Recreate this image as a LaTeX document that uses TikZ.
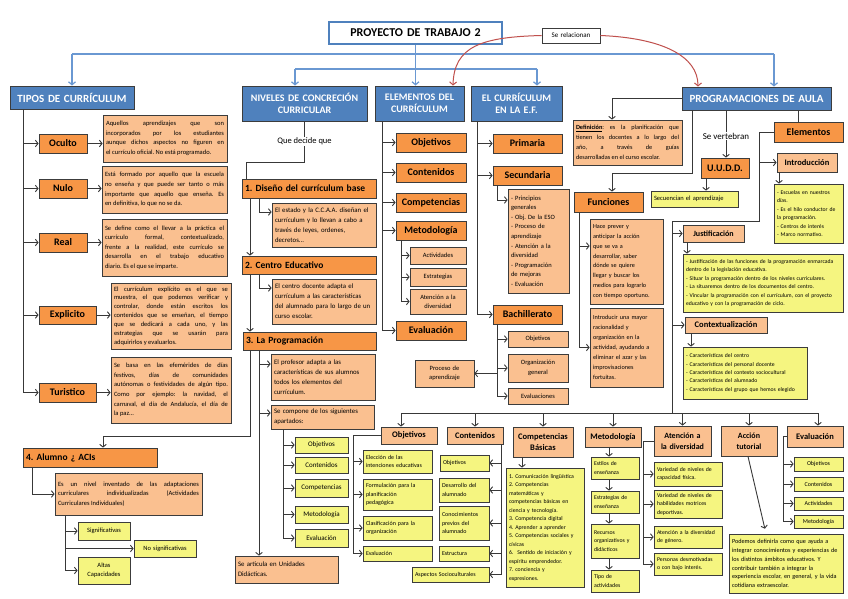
\documentclass[tikz,border=0pt]{standalone}
\usepackage{fontspec}
\setmainfont{Carlito}
\usetikzlibrary{arrows.meta}
\definecolor{hblue}{HTML}{4F81BD}
\definecolor{orng}{HTML}{F79646}
\definecolor{lorng}{HTML}{FAC090}
\definecolor{yel}{HTML}{F5F580}
\definecolor{bd}{HTML}{3C3C3C}
\definecolor{lc}{HTML}{383838}
\definecolor{bline}{HTML}{6A98D2}
\definecolor{rline}{HTML}{C0504D}
\newcommand\bx[8][]{%
 \pgfmathsetmacro\bw{#6-#4}%
 \pgfmathsetmacro\bh{#7-#5}%
 \pgfmathsetmacro\bcx{(#4+#6)/2}%
 \pgfmathsetmacro\bcy{(#5+#7)/2}%
 \pgfmathsetmacro\btw{#6-#4-6}%
 \node[#2, minimum width=\bw pt, minimum height=\bh pt, text width=\btw pt, #1] (#3) at (\bcx,\bcy) {#8};}
\newcommand\fs[2]{\fontsize{#1}{#2}\selectfont}
\tikzset{
 base/.style={align=center, inner xsep=3pt, inner ysep=0.5pt},
 hdr/.style={base, draw=bd, line width=0.9pt, fill=hblue, text=white, font=\fs{10}{12.5}\bfseries},
 ob/.style={base, draw=bd, line width=0.9pt, fill=orng, font=\fs{10}{12}\bfseries},
 lob/.style={ob, fill=lorng},
 lo/.style={base, draw=bd, line width=0.8pt, fill=lorng, align=left, font=\fs{6.5}{9.6}},
 lj/.style={lo, align=justify},
 ye/.style={base, draw=bd, line width=0.8pt, fill=yel, align=left, font=\fs{6}{8.5}},
 ln/.style={draw=lc, line width=0.9pt},
 ar/.style={ln, -{Straight Barb[length=2.6pt,width=6.5pt]}},
 bl/.style={draw=bline, line width=1.2pt},
 bla/.style={bl, -{Straight Barb[length=3pt,width=7pt]}},
 ra/.style={draw=rline, line width=1pt, -{Straight Barb[length=3pt,width=7pt]}},
}
\begin{document}
\frenchspacing
\begin{tikzpicture}[x=1pt,y=-1pt]
\useasboundingbox (0,0) rectangle (848,599);
\fill[white] (0,0) rectangle (848,599);

% ---------- top ----------
\bx[draw=hblue, line width=1.6pt, fill=white, font=\fs{12}{14}\bfseries]{base}{title}{329}{22}{502}{44}{PROYECTO DE TRABAJO 2}
\bx[draw=bd, line width=0.7pt, fill=white, font=\fs{7}{8}]{base}{serel}{542}{28}{600}{43}{Se relacionan}

\bx[font=\fs{11}{13}\bfseries]{hdr}{tipos}{10}{86}{134}{109}{TIPOS DE CURRÍCULUM}
\bx{hdr}{niveles}{242}{86}{367}{121}{NIVELES DE CONCRECIÓN\\CURRICULAR}
\bx{hdr}{elem}{375}{86}{464}{121}{ELEMENTOS DEL\\CURRÍCULUM}
\bx{hdr}{ef}{471}{86}{562}{121}{EL CURRÍCULUM\\EN LA E.F.}
\bx[font=\fs{11}{13}\bfseries]{hdr}{prog}{682}{87}{831}{110}{PROGRAMACIONES DE AULA}

\coordinate (bL) at (72,54);
\coordinate (bR) at (774,54);
\coordinate (nA) at (295,69);
\coordinate (eA) at (537,69);
\draw[bl] (bL) -- (bR);
\draw[bl] (nA) -- (eA);
\draw[bla] (title.south) -- (title.south |- elem.north);
\draw[bla] (bL) -- (tipos.north);
\draw[bla] (bR) -- (bR |- prog.north);
\draw[bla] (nA) -- (nA |- niveles.north);
\draw[bla] (eA) -- (eA |- ef.north);
\draw[ra] (serel.west) .. controls (482,37) and (454,46) .. (elem.north -| 453,0);
\draw[ra] (serel.east) .. controls (662,38) and (698,56) .. (prog.north -| 698,0);

% ---------- TIPOS ----------
\bx{ob}{oculto}{39}{134}{87}{153}{Oculto}
\bx{ob}{nulo}{39}{179}{87}{198}{Nulo}
\bx{ob}{real}{39}{233}{87}{252}{Real}
\bx{ob}{explicito}{39}{306}{96}{324}{Explicito}
\bx{ob}{turistico}{39}{383}{96}{402}{Turistico}
\bx{lj}{docu}{103}{115}{227}{162}{Aquellos aprendizajes que son\linebreak incorporados por los estudiantes\linebreak aunque dichos aspectos no figuren en\linebreak el currículo oficial. No está programado.}
\bx{lj}{dnul}{102}{166}{227}{213}{Está formado por aquello que la escuela\linebreak no enseña y que puede ser tanto o más\linebreak importante que aquello que enseña. Es\linebreak en definitiva, lo que no se da.}
\bx{lj}{dreal}{102}{219}{227}{276}{Se define como el llevar a la práctica el\linebreak currículo formal, contextualizado,\linebreak frente a la realidad, este currículo se\linebreak desarrolla en el trabajo educativo\linebreak diario. Es el que se imparte.}
\bx[font=\fs{6.5}{8.9}]{lj}{dexp}{111}{283}{231}{349}{El currículum explícito es el que se\linebreak muestra, el que podemos verificar y\linebreak controlar, donde están escritos los\linebreak contenidos que se enseñan, el tiempo\linebreak que se dedicará a cada uno, y las\linebreak estrategias que se usarán para\linebreak adquirirlos y evaluarlos.}
\bx{lj}{dtur}{111}{357}{231}{423}{Se basa en las efemérides de días\linebreak festivos, días de comunidades\linebreak autónomas o festividades de algún tipo.\linebreak Como por ejemplo: la navidad, el\linebreak carnaval, el día de Andalucía, el día de\linebreak la paz...}

\coordinate (tv) at (23,0);
\draw[ln] (tipos.south -| tv) -- (tv |- turistico.west);
\foreach \n in {oculto,nulo,real,explicito,turistico} \draw[ar] (tv |- \n.west) -- (\n.west);
\draw[ar] (oculto.east) -- (docu.west |- oculto.east);
\draw[ar] (nulo.east) -- (dnul.west |- nulo.east);
\draw[ar] (real.east) -- (dreal.west |- real.east);
\draw[ar] (explicito.east) -- (dexp.west |- explicito.east);
\draw[ar] (turistico.east) -- (dtur.west |- turistico.east);

% ---------- NIVELES ----------
\node[font=\fs{8.5}{10}, inner sep=1pt] (qdq) at (304.5,141.5) {Que decide que};
\tikzset{nl/.style={ob, align=left, font=\fs{9.5}{11}\bfseries}}
\bx{nl}{n1}{242}{179}{376}{198}{1. Diseño del currículum base}
\bx[font=\fs{6.8}{10}]{lo}{d1}{272}{203}{376}{247}{El estado y la C.C.A.A. diseñan el\\currículum y lo llevan a cabo a\\través de leyes, ordenes,\\decretos...}
\bx{nl}{n2}{242}{256}{376}{274}{2. Centro Educativo}
\bx[font=\fs{6.8}{10}]{lo}{d2}{272}{279}{376}{324}{El centro docente adapta el\\currículum a las características\\del alumnado para lo largo de un\\curso escolar.}
\bx{nl}{n3}{243}{332}{376}{350}{3. La Programación}
\bx[font=\fs{6.8}{10}]{lo}{d3}{271}{354}{375}{400}{El profesor adapta a las\\características de sus alumnos\\todos los elementos del\\currículum.}
\bx[font=\fs{6.8}{10}]{lo}{d4}{271}{405}{374}{429}{Se compone de los siguientes\\apartados:}
\bx[font=\fs{6.8}{10}]{lo}{artic}{235}{556}{338}{583}{Se articula en Unidades\\Didácticas.}
\bx[align=center, font=\fs{7}{8}]{ye}{so1}{295}{437}{348}{453}{Objetivos}
\bx[align=center, font=\fs{7}{8}]{ye}{so2}{295}{457}{348}{473}{Contenidos}
\bx[align=center, font=\fs{7}{8}]{ye}{so3}{295}{479}{348}{497}{Competencias}
\bx[align=center, font=\fs{7}{8}]{ye}{so4}{295}{506}{348}{523}{Metodología}
\bx[align=center, font=\fs{7}{8}]{ye}{so5}{295}{529}{348}{547}{Evaluación}

\draw[ln] (niveles.south) -- (qdq.north);
\coordinate (nv) at (246,162);
\draw[ln] (qdq.south) |- (nv) -- (nv |- n1.north);
\coordinate (nx) at (250,0);
\coordinate (ny) at (259,0);
\coordinate (nz) at (283,0);
\draw[ar] (nx |- n1.south) -- (nx |- n2.north);
\draw[ar] (nx |- n2.south) -- (nx |- n3.north);
\draw[ar] (ny |- n1.south) |- (d1.west |- 0,212);
\draw[ar] (ny |- n2.south) |- (d2.west |- 0,288);
\draw[ar] (ny |- n3.south) -- (ny |- artic.north);
\draw[ar] (ny |- 0,364) -- (d3.west |- 0,364);
\draw[ar] (ny |- 0,413) -- (d4.west |- 0,413);
\draw[ln] (nz |- d4.south) -- (nz |- so5.west);
\foreach \n in {so1,so2,so3,so4,so5} \draw[ar] (nz |- \n.west) -- (\n.west);

% ---------- ALUMNO ----------
\bx{nl}{alumno}{23}{448}{157}{467}{4. Alumno ¿ ACIs}
\bx{lj}{dal}{55}{473}{202}{515}{Es un nivel inventado de las adaptaciones\linebreak curriculares individualizadas (Actividades\linebreak Curriculares Individuales)}
\bx[align=center, font=\fs{6.5}{8.5}]{ye}{sig}{78}{522}{130}{540}{Significativas}
\bx[align=center, font=\fs{6.5}{8.5}]{ye}{nosig}{134}{540}{196}{557}{No significativas}
\bx[align=center, font=\fs{6.5}{8.5}]{ye}{altas}{78}{557}{130}{584}{Altas\\Capacidades}
\coordinate (al) at (103,436);
\draw[ar] (nx |- n3.south) |- (al) -- (al |- alumno.north);
\coordinate (ax) at (32,0);
\coordinate (ay) at (65,0);
\draw[ar] (ax |- alumno.south) |- (dal.west);
\draw[ln] (ay |- dal.south) -- (ay |- altas.west);
\foreach \n in {sig,nosig,altas} \draw[ar] (ay |- \n.west) -- (\n.west);

% ---------- ELEMENTOS ----------
\bx{ob}{eo}{396}{133}{466}{152}{Objetivos}
\bx{ob}{ec}{396}{163}{466}{182}{Contenidos}
\bx{ob}{ecomp}{396}{193}{466}{212}{Competencias}
\bx{ob}{emet}{396}{221}{466}{240}{Metodología}
\bx[align=center, font=\fs{6.5}{8.5}]{lo}{eact}{410}{247}{466}{264}{Actividades}
\bx[align=center, font=\fs{6.5}{8.5}]{lo}{eest}{410}{268}{466}{286}{Estrategias}
\bx[align=center, font=\fs{6.5}{9}]{lo}{eatd}{410}{289}{466}{314}{Atención a la\\diversidad}
\bx{ob}{eev}{396}{321}{466}{340}{Evaluación}
\coordinate (ex) at (382,0);
\coordinate (ey) at (401,0);
\draw[ln] (ex |- elem.south) -- (ex |- eev.west);
\foreach \n in {eo,ec,ecomp,emet,eev} \draw[ar] (ex |- \n.west) -- (\n.west);
\draw[ln] (ey |- emet.south) -- (ey |- eatd.west);
\foreach \n in {eact,eest,eatd} \draw[ar] (ey |- \n.west) -- (\n.west);

% ---------- E.F. ----------
\bx{ob}{prim}{493}{134}{562}{153}{Primaria}
\bx{ob}{sec}{493}{166}{562}{185}{Secundaria}
\bx{lo}{seclist}{508}{189}{569}{293}{- Principios\\generales\\- Obj. De la ESO\\- Proceso de\\aprendizaje\\- Atención a la\\diversidad\\- Programación\\de mejoras\\- Evaluación}
\bx{ob}{bach}{493}{305}{562}{324}{Bachillerato}
\bx[align=center, font=\fs{6.5}{9}]{lo}{bo}{508}{331}{568}{347}{Objetivos}
\bx[align=center, font=\fs{6.5}{9.5}]{lo}{bog}{508}{354}{568}{382}{Organización\\general}
\bx[align=center, font=\fs{6.5}{9}]{lo}{bev}{508}{388}{568}{404}{Evaluaciones}
\bx[align=center, font=\fs{6.5}{9.5}]{lo}{proc}{415}{360}{474}{387}{Proceso de\\aprendizaje}
\coordinate (fx) at (477,0);
\coordinate (fy) at (497,0);
\draw[ln] (fx |- ef.south) -- (fx |- bach.west);
\foreach \n in {prim,sec,bach} \draw[ar] (fx |- \n.west) -- (\n.west);
\draw[ar] (fy |- sec.south) |- (seclist.west |- 0,200);
\draw[ln] (fy |- bach.south) -- (fy |- bev.west);
\foreach \n in {bo,bog,bev} \draw[ar] (fy |- \n.west) -- (\n.west);
\draw[ar] (fy |- proc.east) -- (proc.east);

% ---------- PROGRAMACIONES ----------
\bx[font=\fs{6.3}{10}]{lj}{defn}{573}{120}{682}{165}{\textbf{\underline{Definición}}: es la planificación que\linebreak tienen los docentes a lo largo del\linebreak año, a través de guías\linebreak desarrolladas en el curso escolar.}
\bx{ob}{func}{574}{192}{643}{212}{Funciones}
\bx[font=\fs{6.2}{9.8}]{lo}{fa}{590}{219}{663}{304}{Hace prever y\\anticipar la acción\\que se va a\\desarrollar, saber\\dónde se quiere\\llegar y buscar los\\medios para lograrlo\\con tiempo oportuno.}
\bx[font=\fs{6.2}{10}]{lo}{fb}{590}{308}{663}{387}{Introducir una mayor\\racionalidad y\\organización en la\\actividad, ayudando a\\eliminar el azar y las\\improvisaciones\\fortuitas.}
\node[font=\fs{9}{10}, inner sep=1pt] (sv) at (726,136) {Se vertebran};
\bx{ob}{uudd}{701}{158}{749}{178}{U.U.D.D.}
\bx[font=\fs{6.5}{8}]{ye}{secu}{651}{191}{738}{207}{Secuencian el aprendizaje}
\bx{ob}{elemP}{774}{122}{843}{142}{Elementos}
\bx[font=\fs{8.5}{10}\bfseries]{lob}{intro}{777}{153}{837}{172}{Introducción}
\bx[font=\fs{5.7}{8.5}]{ye}{ilist}{774}{184}{843}{243}{- Escuelas en nuestros\\días.\\- Es el hilo conductor de\\la programación.\\- Centros de interés\\- Marco normativo.}
\bx[font=\fs{8}{10}\bfseries]{lob}{just}{683}{225}{744}{242}{Justificación}
\bx[font=\fs{5.7}{8.5}]{ye}{jlist}{683}{254}{843}{312}{- Justificación de las funciones de la programación enmarcada\\dentro de la legislación educativa.\\- Situar la programación dentro de los niveles curriculares.\\- La situaremos dentro de los documentos del centro.\\- Vincular la programación con el currículum, con el proyecto\\educativo y con la programación de ciclo.}
\bx[font=\fs{8.5}{10}\bfseries]{lob}{cont}{685}{317}{767}{333}{Contextualización}
\bx[font=\fs{5.7}{8.3}]{ye}{clist}{683}{347}{807}{399}{- Características del centro\\- Características del personal docente\\- Características del contexto sociocultural\\- Características del alumnado\\- Características del grupo que hemos elegido}

\coordinate (px) at (612,0);
\coordinate (pd) at (692,173);
\draw[ar] (prog.west) -| (px |- defn.north);
\draw[ar] (prog.south -| pd) -- (pd) -| (px |- func.north);
\coordinate (fz) at (579,0);
\draw[ln] (fz |- func.south) -- (fz |- fb.west);
\draw[ar] (fz |- 0,246) -- (fa.west |- 0,246);
\draw[ar] (fz |- fb.west) -- (fb.west);
\draw[ln] (prog.south -| sv) -- (sv.north);
\draw[ar] (sv.south) -- (sv.south |- uudd.north);
\draw[ar] (uudd.south -| 706,0) -- (secu.north -| 706,0);
\draw[ln] (prog.south -| 798,0) -- (elemP.north -| 798,0);
\coordinate (qx) at (759,0);
\coordinate (qc) at (672,221);
\coordinate (hL) at (401,413);
\coordinate (hR) at (818,413);
\draw[ln] (elemP.west) -| (qx |- qc) -- (qc) -- (qc |- hL);
\draw[ar] (qx |- intro.west) -- (intro.west);
\draw[ar] (intro.south -| 779,0) -- (ilist.north -| 779,0);
\draw[ar] (qc |- just.west) -- (just.west);
\draw[ar] (qc |- cont.west) -- (cont.west);
\draw[ar] (just.south -| 687,0) -- (jlist.north -| 687,0);
\draw[ar] (cont.south -| 691,0) -- (clist.north -| 691,0);

% ---------- bottom row ----------
\tikzset{bh/.style={ob, fill=lorng, font=\fs{8.5}{11}\bfseries}}
\bx{bh}{bobj}{381}{427}{437}{444}{Objetivos}
\bx{bh}{bcon}{447}{427}{503}{444}{Contenidos}
\bx{bh}{bcomp}{513}{427}{573}{457}{Competencias\\Básicas}
\bx{bh}{bmet}{585}{427}{641}{447}{Metodología}
\bx[font=\fs{8}{11}\bfseries]{bh}{batd}{654}{426}{711}{456}{Atención a\\la diversidad}
\bx[font=\fs{8}{11}\bfseries]{bh}{bacc}{721}{426}{777}{456}{Acción\\tutorial}
\bx{bh}{beval}{787}{426}{843}{447}{Evaluación}
\draw[ln] (hL) -- (hR);
\draw[ar] (hL) -- (hL |- bobj.north);
\foreach \n in {bcon,bcomp,bmet,batd,bacc} \draw[ar] (\n.north |- hL) -- (\n.north);
\draw[ar] (hR) -- (hR |- beval.north);

\bx{ye}{ob1}{363}{450}{432}{473}{Elección de las\\intenciones educativas}
\bx{ye}{ob2}{363}{479}{432}{510}{Formulación para la\\planificación\\pedagógica}
\bx{ye}{ob3}{363}{516}{432}{540}{Clasificación para la\\organización}
\bx{ye}{ob4}{363}{546}{432}{561}{Evaluación}
\coordinate (ox) at (353,0);
\draw[ln] (bobj.west) -| (ox |- ob4.west);
\foreach \n in {ob1,ob2,ob3,ob4} \draw[ar] (ox |- \n.west) -- (\n.west);

\bx{ye}{cn1}{440}{455}{489}{471}{Objetivos}
\bx{ye}{cn2}{439}{478}{489}{502}{Desarrollo del\\alumnado}
\bx{ye}{cn3}{439}{506}{489}{540}{Conocimientos\\previos del\\alumnado}
\bx{ye}{cn4}{439}{546}{489}{561}{Estructura}
\bx{ye}{cn5}{412}{567}{489}{582}{Aspectos Socioculturales}
\coordinate (cx) at (501,0);
\draw[ln] (cx |- bcon.south) -- (cx |- cn5.east);
\foreach \n in {cn1,cn2,cn3,cn4,cn5} \draw[ar] (cx |- \n.east) -- (\n.east);

\bx[font=\fs{5.8}{8.5}]{ye}{cblist}{506}{468}{584}{587}{1. Comunicación lingüística\\2. Competencias\\matemáticas y\\competencias básicas en\\ciencia y tecnología.\\3. Competencia digital\\4. Aprender a aprender\\5. Competencias sociales y\\cívicas\\6.\ \ Sentido de iniciación y\\espíritu emprendedor.\\7. conciencia y\\expresiones.}
\draw[ar] (bcomp.south -| 522,0) -- (cblist.north -| 522,0);

\bx[font=\fs{5.8}{8.5}]{ye}{m1}{591}{457}{639}{479}{Estilos de\\enseñanza}
\bx[font=\fs{5.8}{8.5}]{ye}{m2}{591}{491}{639}{513}{Estrategias de\\enseñanza}
\bx[font=\fs{5.8}{8.5}]{ye}{m3}{591}{524}{639}{558}{Recursos\\organizativos y\\didácticos}
\bx[font=\fs{5.8}{8.5}]{ye}{m4}{591}{570}{639}{592}{Tipo de\\actividades}
\coordinate (mx) at (609,0);
\draw[ar] (mx |- bmet.south) -- (mx |- m1.north);
\draw[ar] (mx |- m1.south) -- (mx |- m2.north);
\draw[ar] (mx |- m2.south) -- (mx |- m3.north);
\draw[ar] (mx |- m3.south) -- (mx |- m4.north);

\bx[font=\fs{5.8}{8.5}]{ye}{a1}{654}{462}{722}{486}{Variedad de niveles de\\capacidad física.}
\bx[font=\fs{5.8}{8.5}]{ye}{a2}{654}{490}{722}{518}{Variedad de niveles de\\habilidades motrices\\deportivas.}
\bx[font=\fs{5.8}{8.5}]{ye}{a3}{654}{526}{722}{548}{Atención a la diversidad\\de género.}
\bx[font=\fs{5.8}{8.5}]{ye}{a4}{654}{553}{722}{575}{Personas desmotivadas\\o con bajo interés.}
\coordinate (tx) at (643,0);
\draw[ln] (batd.west) -| (tx |- a4.west);
\foreach \n in {a1,a2,a3,a4} \draw[ar] (tx |- \n.west) -- (\n.west);

\bx[font=\fs{6.2}{8.8}]{ye}{tut}{729}{534}{843}{593}{Podemos definirla como que ayuda a\\integrar conocimientos y experiencias de\\los distintos ámbitos educativos. Y\\contribuir también a integrar la\\experiencia escolar, en general, y la vida\\cotidiana extraescolar.}
\draw[ar, shorten >=5pt] (bacc.south -| 748,0) -- (tut.north -| 766,0);

\bx[align=center]{ye}{e1}{794}{457}{843}{471}{Objetivos}
\bx[align=center]{ye}{e2}{794}{477}{843}{491}{Contenidos}
\bx[align=center]{ye}{e3}{794}{497}{843}{510}{Actividades}
\bx[align=center]{ye}{e4}{794}{515}{843}{528}{Metodología}
\coordinate (vx) at (783,0);
\draw[ln] (beval.west) -| (vx |- e4.west);
\foreach \n in {e1,e2,e3,e4} \draw[ar] (vx |- \n.west) -- (\n.west);
\end{tikzpicture}
\end{document}
